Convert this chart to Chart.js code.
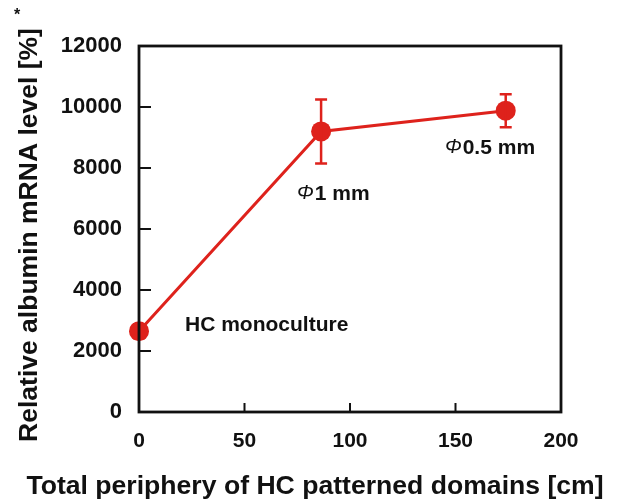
<!DOCTYPE html>
<html>
<head>
<meta charset="utf-8">
<script src="https://cdn.jsdelivr.net/npm/chart.js@4/dist/chart.umd.min.js"></script>
<style>
  body { margin: 0; background: #fff; }
  #wrap { width: 620px; height: 504px; }
</style>
</head>
<body>
<div id="wrap"><canvas id="chart" width="620" height="504"></canvas></div>
<script>
// data
const periphery = [0, 86.3, 173.8];          // cm
const albumin = [2650, 9200, 9880];          // %
const albuminErr = [230, 1050, 540];
const xTicks = [0, 50, 100, 150, 200];
const yTicks = [0, 2000, 4000, 6000, 8000, 10000, 12000];
const pointNames = ['HC monoculture', '\u03A61 mm', '\u03A60.5 mm'];
const xTitle = 'Total periphery of HC patterned domains [cm]';
const yTitle = 'Relative albumin mRNA level [%]';

const red = 'rgb(222, 34, 28)';
const font = 'Liberation Sans, Arial, Helvetica, sans-serif';

// anchors for the point labels, in data units (left edge, middle)
const labelAt = [
    { x: 21.8, y: 2850 },
    { x: 74.9, y: 7150 },
    { x: 145, y: 8660 }
];

const errorBars = {
    id: 'errorBars',
    afterDatasetsDraw(chart) {
        const ctx = chart.ctx;
        const xs = chart.scales.x, ys = chart.scales.y;
        ctx.save();
        ctx.strokeStyle = red;
        ctx.lineWidth = 2.5;
        periphery.forEach((v, i) => {
            const px = xs.getPixelForValue(v);
            const top = ys.getPixelForValue(albumin[i] + albuminErr[i]);
            const bot = ys.getPixelForValue(albumin[i] - albuminErr[i]);
            ctx.beginPath();
            ctx.moveTo(px, top); ctx.lineTo(px, bot);
            ctx.moveTo(px - 6, top); ctx.lineTo(px + 6, top);
            ctx.moveTo(px - 6, bot); ctx.lineTo(px + 6, bot);
            ctx.stroke();
        });
        ctx.restore();
    }
};

const frame = {
    id: 'frame',
    afterDraw(chart) {
        const ctx = chart.ctx;
        const a = chart.chartArea;
        const xs = chart.scales.x, ys = chart.scales.y;
        ctx.save();
        ctx.strokeStyle = '#111';
        ctx.lineWidth = 2.8;
        ctx.strokeRect(a.left, a.top, a.right - a.left, a.bottom - a.top);
        ctx.lineWidth = 2;
        ctx.beginPath();
        yTicks.slice(1, -1).forEach(v => {
            const py = ys.getPixelForValue(v);
            ctx.moveTo(a.left, py); ctx.lineTo(a.left + 12, py);
        });
        xTicks.slice(1, -1).forEach(v => {
            const px = xs.getPixelForValue(v);
            ctx.moveTo(px, a.bottom); ctx.lineTo(px, a.bottom - 9);
        });
        ctx.stroke();

        // point names
        ctx.fillStyle = '#111';
        ctx.textBaseline = 'middle';
        pointNames.forEach((name, i) => {
            let px = xs.getPixelForValue(labelAt[i].x);
            const py = ys.getPixelForValue(labelAt[i].y);
            let rest = name;
            if (name[0] === '\u03A6') {
                ctx.font = 'italic 20px ' + font;
                ctx.fillText('\u03A6', px, py);
                px += ctx.measureText('\u03A6').width + 1;
                rest = name.slice(1);
            }
            ctx.font = 'bold 21px ' + font;
            ctx.fillText(rest, px, py);
        });

        // axis titles (drawn here so they are not squeezed to the plot width)
        ctx.textAlign = 'center';
        ctx.font = 'bold 26.6px ' + font;
        ctx.fillText(xTitle, 315, 487);
        ctx.save();
        ctx.translate(30, 235);
        ctx.rotate(-Math.PI / 2);
        ctx.font = 'bold 26.5px ' + font;
        ctx.fillText(yTitle, 0, 0);
        ctx.restore();

        // footnote mark on the y title
        ctx.font = 'bold 16px ' + font;
        ctx.fillText('*', 17, 16);
        ctx.restore();
    }
};

new Chart(document.getElementById('chart'), {
    type: 'scatter',
    data: {
        datasets: [{
            data: periphery.map((x, i) => ({ x: x, y: albumin[i] })),
            showLine: true,
            borderColor: red,
            backgroundColor: red,
            borderWidth: 3,
            pointRadius: 10,
            pointHoverRadius: 10,
            pointBorderWidth: 0,
            clip: false
        }]
    },
    options: {
        responsive: false,
        animation: false,
        layout: { padding: { top: 46, right: 59, left: 0, bottom: 0 } },
        plugins: {
            legend: { display: false },
            tooltip: { enabled: false }
        },
        scales: {
            x: {
                type: 'linear',
                min: 0, max: 200,
                afterBuildTicks: s => { s.ticks = xTicks.map(v => ({ value: v })); },
                afterFit: s => { s.height = 92; },
                grid: { display: false, drawTicks: false },
                border: { display: false },
                ticks: {
                    color: '#111', padding: 17,
                    font: { family: font, size: 21, weight: 'bold' },
                    callback: v => String(v)
                }
            },
            y: {
                type: 'linear',
                min: 0, max: 12000,
                afterBuildTicks: s => { s.ticks = yTicks.map(v => ({ value: v })); },
                afterFit: s => { s.width = 139; },
                grid: { display: false, drawTicks: false },
                border: { display: false },
                ticks: {
                    color: '#111', padding: 17,
                    font: { family: font, size: 22, weight: 'bold' },
                    callback: v => String(v)
                }
            }
        }
    },
    plugins: [errorBars, frame]
});
</script>
</body>
</html>
